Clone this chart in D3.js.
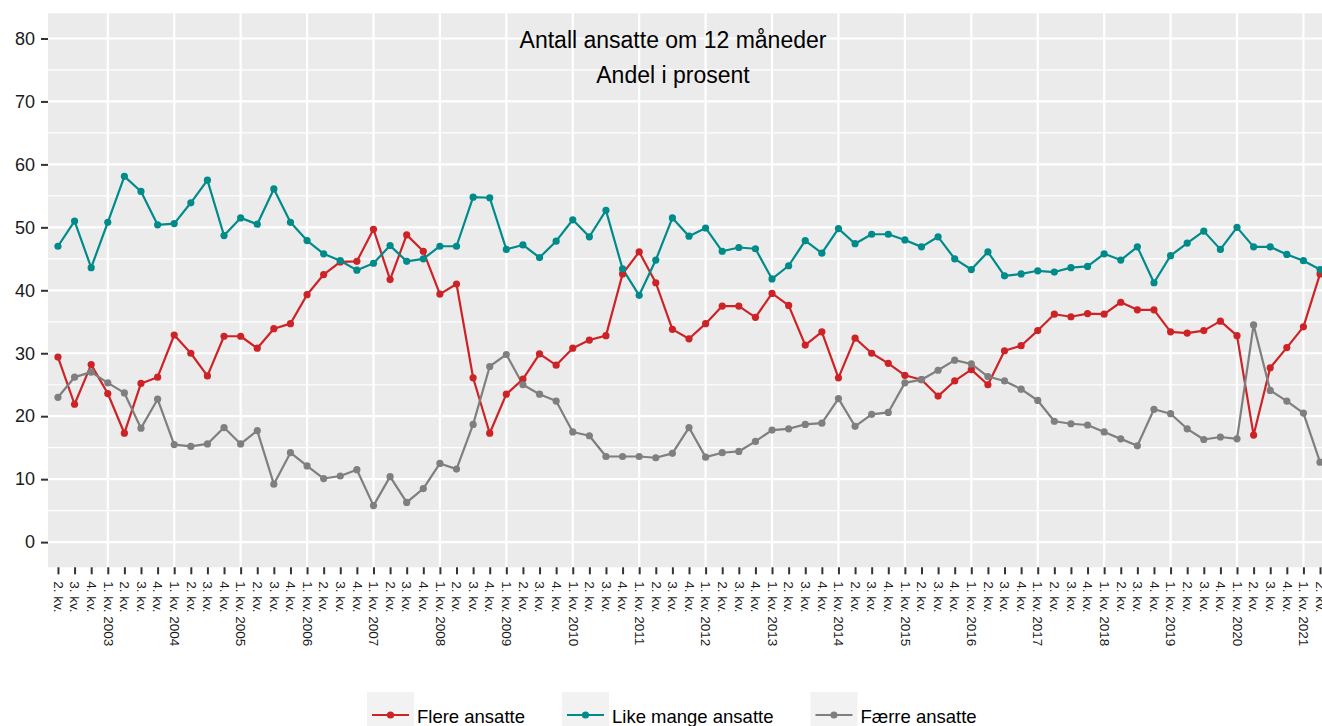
<!DOCTYPE html>
<html>
<head>
<meta charset="utf-8">
<script src="https://cdn.jsdelivr.net/npm/d3@7"></script>
<style>
  body { margin: 0; background: #fff; }
  text { font-family: "Liberation Sans", Arial, sans-serif; }
</style>
</head>
<body>
<svg id="chart" width="1322" height="726"></svg>
<script>
(function () {
    var width = 1322, height = 726

    // quarters from 2. kv. 2002 to 2. kv. 2021
    const quarters = [
        "2. kv.", "3. kv.", "4. kv.",
        "1. kv. 2003", "2. kv.", "3. kv.", "4. kv.",
        "1. kv. 2004", "2. kv.", "3. kv.", "4. kv.",
        "1. kv. 2005", "2. kv.", "3. kv.", "4. kv.",
        "1. kv. 2006", "2. kv.", "3. kv.", "4. kv.",
        "1. kv. 2007", "2. kv.", "3. kv.", "4. kv.",
        "1. kv. 2008", "2. kv.", "3. kv.", "4. kv.",
        "1. kv. 2009", "2. kv.", "3. kv.", "4. kv.",
        "1. kv. 2010", "2. kv.", "3. kv.", "4. kv.",
        "1. kv. 2011", "2. kv.", "3. kv.", "4. kv.",
        "1. kv. 2012", "2. kv.", "3. kv.", "4. kv.",
        "1. kv. 2013", "2. kv.", "3. kv.", "4. kv.",
        "1. kv. 2014", "2. kv.", "3. kv.", "4. kv.",
        "1. kv. 2015", "2. kv.", "3. kv.", "4. kv.",
        "1. kv. 2016", "2. kv.", "3. kv.", "4. kv.",
        "1. kv. 2017", "2. kv.", "3. kv.", "4. kv.",
        "1. kv. 2018", "2. kv.", "3. kv.", "4. kv.",
        "1. kv. 2019", "2. kv.", "3. kv.", "4. kv.",
        "1. kv. 2020", "2. kv.", "3. kv.", "4. kv.",
        "1. kv. 2021", "2. kv."
    ];

    const flere = [
        29.4, 21.9, 28.2, 23.6, 17.3, 25.2, 26.2, 32.9, 30.0, 26.4, 32.7, 32.7,
        30.8, 33.9, 34.7, 39.3, 42.5, 44.5, 44.6, 49.7, 41.7, 48.8, 46.2, 39.4,
        41.0, 26.1, 17.3, 23.5, 25.9, 29.9, 28.1, 30.8, 32.1, 32.8, 42.6, 46.1,
        41.2, 33.8, 32.3, 34.7, 37.5, 37.5, 35.7, 39.5, 37.6, 31.3, 33.4, 26.1,
        32.4, 30.0, 28.4, 26.5, 25.8, 23.2, 25.6, 27.4, 25.0, 30.4, 31.2, 33.6,
        36.2, 35.8, 36.3, 36.2, 38.1, 36.9, 36.9, 33.4, 33.2, 33.6, 35.1, 32.8,
        17.0, 27.7, 30.9, 34.2, 42.6
    ];

    const likeMange = [
        47.0, 51.0, 43.6, 50.8, 58.1, 55.7, 50.4, 50.6, 53.9, 57.5, 48.7, 51.5,
        50.5, 56.1, 50.8, 47.9, 45.8, 44.7, 43.2, 44.3, 47.1, 44.6, 45.0, 47.0,
        47.0, 54.8, 54.7, 46.5, 47.2, 45.2, 47.8, 51.2, 48.5, 52.7, 43.4, 39.2,
        44.8, 51.5, 48.6, 49.9, 46.2, 46.8, 46.6, 41.8, 43.9, 47.9, 45.9, 49.8,
        47.4, 48.9, 48.9, 48.0, 46.9, 48.5, 45.0, 43.3, 46.1, 42.3, 42.6, 43.1,
        42.9, 43.6, 43.8, 45.8, 44.8, 46.9, 41.2, 45.5, 47.5, 49.4, 46.5, 50.0,
        46.9, 46.9, 45.7, 44.7, 43.3
    ];

    const faerre = [
        23.0, 26.2, 27.0, 25.3, 23.7, 18.1, 22.7, 15.5, 15.2, 15.6, 18.2, 15.6,
        17.7, 9.2, 14.2, 12.1, 10.1, 10.5, 11.5, 5.8, 10.4, 6.3, 8.5, 12.5,
        11.6, 18.7, 27.9, 29.8, 25.0, 23.5, 22.4, 17.5, 16.9, 13.6, 13.6, 13.6,
        13.4, 14.1, 18.2, 13.5, 14.2, 14.4, 16.0, 17.8, 18.0, 18.7, 18.9, 22.8,
        18.4, 20.3, 20.6, 25.3, 25.8, 27.3, 28.9, 28.3, 26.3, 25.6, 24.3, 22.5,
        19.2, 18.8, 18.6, 17.5, 16.4, 15.3, 21.1, 20.4, 18.0, 16.3, 16.7, 16.4,
        34.5, 24.1, 22.4, 20.5, 12.7
    ];

    const seriesNames = ["Flere ansatte", "Like mange ansatte", "Færre ansatte"];
    const seriesColors = ["#cd2327", "#008b8b", "#7f7f7f"];
    const yTicks = [0, 10, 20, 30, 40, 50, 60, 70, 80];
    const titleLines = ["Antall ansatte om 12 måneder", "Andel i prosent"];

    const series = [flere, likeMange, faerre].map((vals, k) => ({
        name: seriesNames[k],
        color: seriesColors[k],
        values: vals.map((v, i) => ({ q: i, v: v }))
    }));

    // panel
    const panel = { left: 48, right: 1330, top: 13.3, bottom: 567.3 };

    const x = d3.scalePoint()
        .domain(d3.range(quarters.length))
        .range([panel.left, panel.right])
        .padding(0.6);

    const y = d3.scaleLinear()
        .domain([-4, 84])
        .range([panel.bottom, panel.top]);

    const svg = d3.select("#chart");

    svg.append("rect")
        .attr("x", panel.left).attr("y", panel.top)
        .attr("width", panel.right - panel.left)
        .attr("height", panel.bottom - panel.top)
        .attr("fill", "#ebebeb");

    // minor y grid
    svg.append("g")
        .selectAll("line")
        .data(yTicks.slice(0, -1).map(d => d + 5))
        .join("line")
        .attr("x1", panel.left).attr("x2", panel.right)
        .attr("y1", d => y(d)).attr("y2", d => y(d))
        .attr("stroke", "#fff").attr("stroke-width", 1.2);

    // major y grid
    svg.append("g")
        .selectAll("line")
        .data(yTicks)
        .join("line")
        .attr("x1", panel.left).attr("x2", panel.right)
        .attr("y1", d => y(d)).attr("y2", d => y(d))
        .attr("stroke", "#fff").attr("stroke-width", 2.2);

    // vertical grid at every 1. kv.
    svg.append("g")
        .selectAll("line")
        .data(d3.range(quarters.length).filter(i => quarters[i].indexOf("1. kv.") === 0))
        .join("line")
        .attr("x1", d => x(d)).attr("x2", d => x(d))
        .attr("y1", panel.top).attr("y2", panel.bottom)
        .attr("stroke", "#fff").attr("stroke-width", 2.2);

    // y axis
    const yAxis = svg.append("g")
        .attr("transform", "translate(" + panel.left + ",0)")
        .call(d3.axisLeft(y).tickValues(yTicks).tickSize(7).tickPadding(6));
    yAxis.select(".domain").remove();
    yAxis.selectAll(".tick line").attr("stroke", "#333").attr("stroke-width", 2);
    yAxis.selectAll(".tick text")
        .attr("fill", "#1a1a1a")
        .style("font-size", "18px")
        .style("font-family", "'Liberation Sans', Arial, sans-serif");

    // x axis
    const xAxis = svg.append("g")
        .attr("transform", "translate(0," + panel.bottom + ")")
        .call(d3.axisBottom(x).tickFormat(i => quarters[i]).tickSize(7).tickPadding(0));
    xAxis.select(".domain").remove();
    xAxis.selectAll(".tick line").attr("stroke", "#333").attr("stroke-width", 2);
    xAxis.selectAll(".tick text")
        .attr("fill", "#1a1a1a")
        .attr("text-anchor", "start")
        .attr("x", 0).attr("y", 0)
        .attr("dy", "0.35em")
        .attr("transform", "translate(0,14) rotate(90)")
        .style("font-size", "13.5px")
        .style("font-family", "'Liberation Sans', Arial, sans-serif");

    // lines
    const line = d3.line()
        .x(d => x(d.q))
        .y(d => y(d.v));

    svg.append("g")
        .selectAll("path")
        .data(series)
        .join("path")
        .attr("d", d => line(d.values))
        .attr("fill", "none")
        .attr("stroke", d => d.color)
        .attr("stroke-width", 2.2)
        .attr("stroke-linejoin", "round");

    // points
    svg.append("g")
        .selectAll("g")
        .data(series)
        .join("g")
        .attr("fill", d => d.color)
        .selectAll("circle")
        .data(d => d.values)
        .join("circle")
        .attr("cx", d => x(d.q))
        .attr("cy", d => y(d.v))
        .attr("r", 3.6);

    // title inside the panel
    svg.append("g")
        .selectAll("text")
        .data(titleLines)
        .join("text")
        .attr("x", 673)
        .attr("y", (d, i) => 47.5 + i * 35)
        .attr("text-anchor", "middle")
        .attr("fill", "#000")
        .style("font-size", "23px")
        .text(d => d);

    // legend
    const legend = svg.append("g");
    let lx = 367;
    series.forEach((s) => {
        const g = legend.append("g").attr("transform", "translate(" + lx + ",692)");
        g.append("rect")
            .attr("width", 47).attr("height", 47)
            .attr("fill", "#f2f2f2");
        g.append("line")
            .attr("x1", 5).attr("x2", 42)
            .attr("y1", 23).attr("y2", 23)
            .attr("stroke", s.color).attr("stroke-width", 2.2);
        g.append("circle")
            .attr("cx", 23.5).attr("cy", 23).attr("r", 3.6)
            .attr("fill", s.color);
        const t = g.append("text")
            .attr("x", 50).attr("y", 30.5)
            .attr("fill", "#000")
            .style("font-size", "18.5px")
            .text(s.name);
        lx += 50 + t.node().getComputedTextLength() + 37;
    });
})();
</script>
</body>
</html>
